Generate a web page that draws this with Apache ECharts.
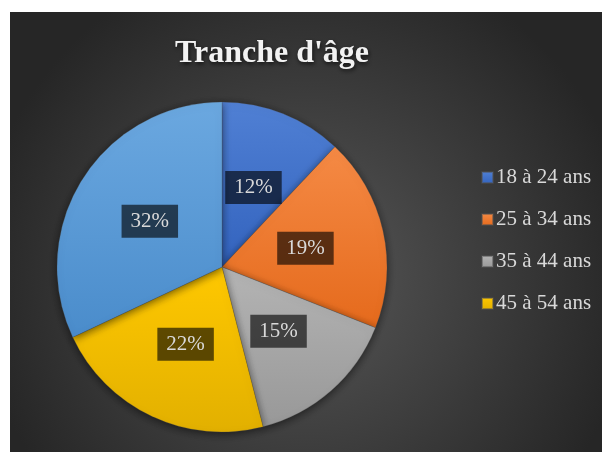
<!DOCTYPE html>
<html>
<head>
<meta charset="utf-8">
<script src="https://cdn.jsdelivr.net/npm/echarts@6/dist/echarts.min.js"></script>
<style>
html,body{margin:0;padding:0;background:#fff;width:602px;height:452px;overflow:hidden;}
#c{position:absolute;left:10px;top:12px;width:592px;height:440px;}
</style>
</head>
<body>
<div id="c"></div>
<script>
var title = "Tranche d'âge";
var categories = ['18 à 24 ans', '25 à 34 ans', '35 à 44 ans', '45 à 54 ans', '55 ans et plus'];
var values = [12, 19, 15, 22, 32];
var legendItems = ['18 à 24 ans', '25 à 34 ans', '35 à 44 ans', '45 à 54 ans'];
var colorsTop = ['#5080D4', '#F58A45', '#B4B4B4', '#FFC800', '#6BA8E0'];
var colorsBottom = ['#3363BE', '#E56A1C', '#989898', '#E2B000', '#4A8CCB'];

var chart = echarts.init(document.getElementById('c'), null, {renderer: 'canvas'});
var data = categories.map(function (n, i) {
  return {
    name: n,
    value: values[i],
    itemStyle: {
      color: {
        type: 'linear', x: 0, y: 0, x2: 0, y2: 1,
        colorStops: [{offset: 0, color: colorsTop[i]}, {offset: 1, color: colorsBottom[i]}]
      }
    }
  };
});
chart.setOption({
  backgroundColor: {
    type: 'radial', x: 0.5, y: 0.6, r: 0.75,
    colorStops: [{offset: 0, color: '#575757'}, {offset: 1, color: '#262626'}]
  },
  title: {
    text: title,
    left: 160,
    top: 21,
    textStyle: {
      fontFamily: 'Liberation Serif',
      fontWeight: 'bold',
      fontSize: 32,
      color: '#F2F2F2',
      textShadowColor: 'rgba(0,0,0,0.7)',
      textShadowBlur: 4,
      textShadowOffsetX: 1,
      textShadowOffsetY: 2
    }
  },
  legend: {
    orient: 'vertical',
    left: 466,
    top: 150,
    data: legendItems,
    icon: 'rect',
    itemWidth: 11,
    itemHeight: 11,
    itemGap: 21,
    textStyle: {fontFamily: 'Liberation Serif', fontSize: 21, color: '#D9D9D9', padding: [0, 0, 0, -2]}
  },
  series: [{
    type: 'pie',
    center: [212, 255],
    radius: [0, 165],
    startAngle: 90,
    clockwise: true,
    animation: false,
    data: data,
    itemStyle: {
      borderColor: 'rgba(80,80,80,0.5)',
      borderWidth: 0.5,
      shadowBlur: 8,
      shadowColor: 'rgba(0,0,0,0.55)',
      shadowOffsetY: 2
    },
    label: {
      show: true,
      position: 'inside',
      formatter: '{c}%',
      fontFamily: 'Liberation Serif',
      fontSize: 21,
      color: '#D9D9D9',
      backgroundColor: 'rgba(0,0,0,0.62)',
      padding: [7, 9, 5, 9]
    },
    labelLine: {show: false},
    emphasis: {disabled: true}
  }]
});
</script>
</body>
</html>
